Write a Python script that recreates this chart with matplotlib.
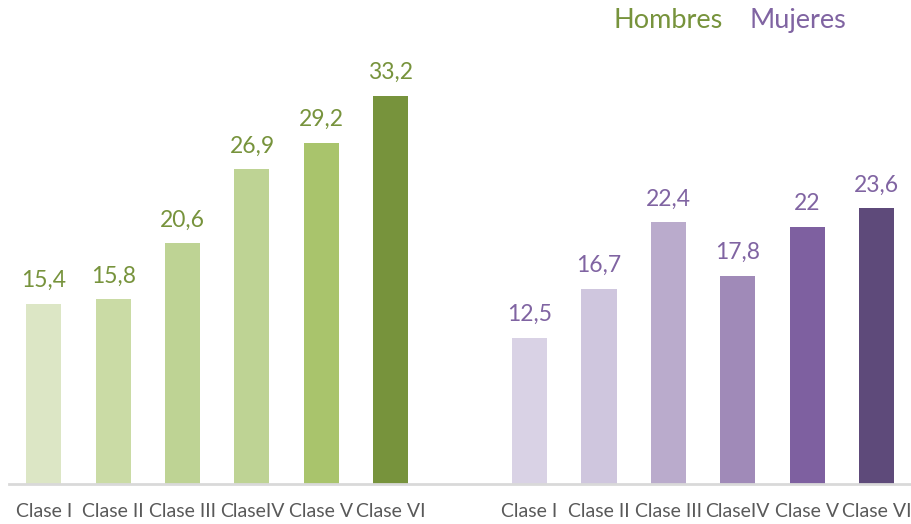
import matplotlib
matplotlib.use("Agg")
import matplotlib.pyplot as plt
import numpy as np

plt.rcParams['font.family'] = ['Lato', 'DejaVu Sans']

clases = ["Clase I", "Clase II", "Clase III", "ClaseIV", "Clase V", "Clase VI"]
hombres = [15.4, 15.8, 20.6, 26.9, 29.2, 33.2]
mujeres = [12.5, 16.7, 22.4, 17.8, 22, 23.6]
hombres_txt = ["15,4", "15,8", "20,6", "26,9", "29,2", "33,2"]
mujeres_txt = ["12,5", "16,7", "22,4", "17,8", "22", "23,6"]

verdes = ["#DCE6C5", "#CADBA5", "#BED394", "#BED394", "#A9C46C", "#77933C"]
morados = ["#D9D2E5", "#CFC6DE", "#BAABCC", "#A08AB8", "#7E60A0", "#5E4A7A"]
verde_txt = "#77933C"
morado_txt = "#8064A2"

fig = plt.figure(figsize=(9.11, 5.24), dpi=100)
ax = fig.add_axes([9 / 911, 40 / 524, 901 / 911, 421 / 524])

x_h = np.arange(6)
x_m = np.arange(6) + 7

ax.bar(x_h, hombres, width=0.505, color=verdes)
ax.bar(x_m, mujeres, width=0.505, color=morados)

for x, v, t in zip(x_h, hombres, hombres_txt):
    ax.annotate(t, (x, v), xytext=(0, 12), textcoords="offset points",
                ha="center", va="baseline", fontsize=16.5, color=verde_txt)
for x, v, t in zip(x_m, mujeres, mujeres_txt):
    ax.annotate(t, (x, v), xytext=(0, 12), textcoords="offset points",
                ha="center", va="baseline", fontsize=16.5, color=morado_txt)

ax.set_xlim(-0.5, 12.48)
ax.set_ylim(0, 36)
ax.set_xticks(list(x_h) + list(x_m))
ax.set_xticklabels(clases + clases, fontsize=14, color="#595959")
ax.tick_params(axis="x", length=0, pad=14)
ax.set_yticks([])
for s in ["top", "right", "left"]:
    ax.spines[s].set_visible(False)
ax.spines["bottom"].set_color("#D9D9D9")
ax.spines["bottom"].set_linewidth(2)

fig.text(614 / 911, 1 - 28 / 524, "Hombres", fontsize=19.5, color=verde_txt, va="baseline")
fig.text(750 / 911, 1 - 28 / 524, "Mujeres", fontsize=19.5, color=morado_txt, va="baseline")

fig.savefig("out.png", dpi=100)
